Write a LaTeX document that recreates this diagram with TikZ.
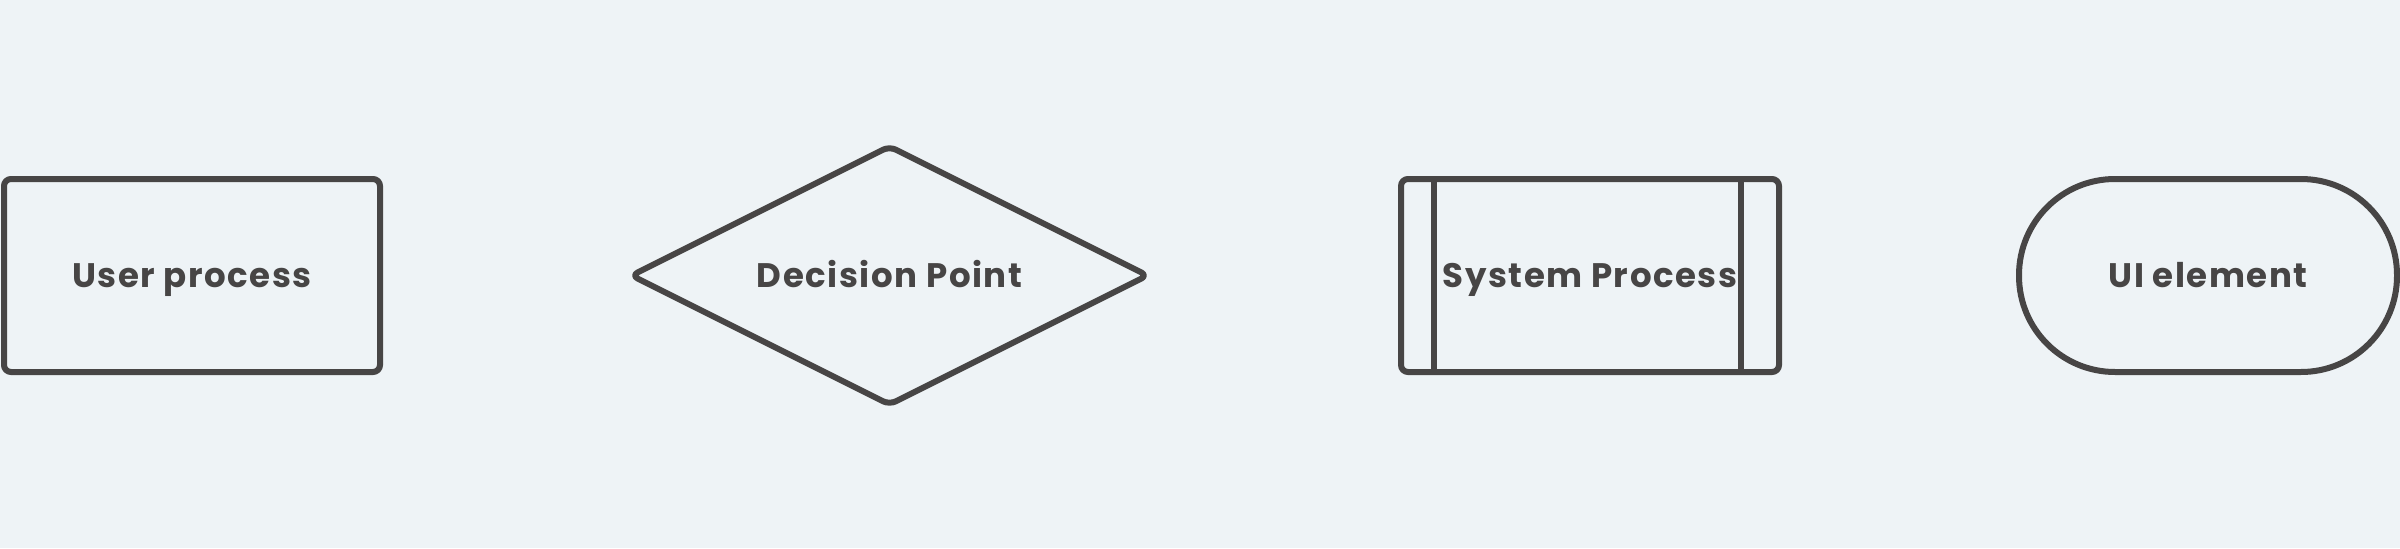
\documentclass[tikz,border=0pt]{standalone}
\usepackage{fontspec}
\setmainfont{Poppins}
\definecolor{ink}{HTML}{474545}
\definecolor{bg}{HTML}{EEF3F6}
\begin{document}
\begin{tikzpicture}[x=1pt,y=1pt,
  shp/.style={draw=ink,line width=3pt,inner sep=0pt,text height=11.5pt,text depth=0pt,font=\fontsize{17}{20}\selectfont\bfseries\addfontfeatures{LetterSpace=4.5},text=ink},
  lbl/.style={inner sep=0pt,text height=11.5pt,text depth=0pt,font=\fontsize{17}{20}\selectfont\bfseries\addfontfeatures{LetterSpace=4.5},text=ink},
  boxshape/.style={shp,rectangle,rounded corners=3.5pt,minimum width=188pt,minimum height=96.5pt},
  pillshape/.style={shp,rectangle,rounded corners=48pt,minimum width=189pt,minimum height=96.5pt}
]
\fill[bg] (0,0) rectangle (1200,274);
\useasboundingbox (0,0) rectangle (1200,274);
\node[boxshape] (user) at (96,136.25) {User process};
\node[lbl] (dec) at (444.75,136.25) {Decision Point};
\draw[ink,line width=3pt,rounded corners=3.5pt,line join=round]
  ([yshift=64.5pt]dec.center) -- ([xshift=129pt]dec.center) -- ([yshift=-64.5pt]dec.center) -- ([xshift=-129pt]dec.center) -- cycle;
\node[boxshape,minimum width=189pt] (sys) at (795,136.25) {System Process};
\draw[ink,line width=3pt] ([xshift=18pt]sys.north west) -- ([xshift=18pt]sys.south west);
\draw[ink,line width=3pt] ([xshift=-20.5pt]sys.north east) -- ([xshift=-20.5pt]sys.south east);
\node[pillshape] (ui) at (1104,136.25) {UI element};
\end{tikzpicture}
\end{document}
